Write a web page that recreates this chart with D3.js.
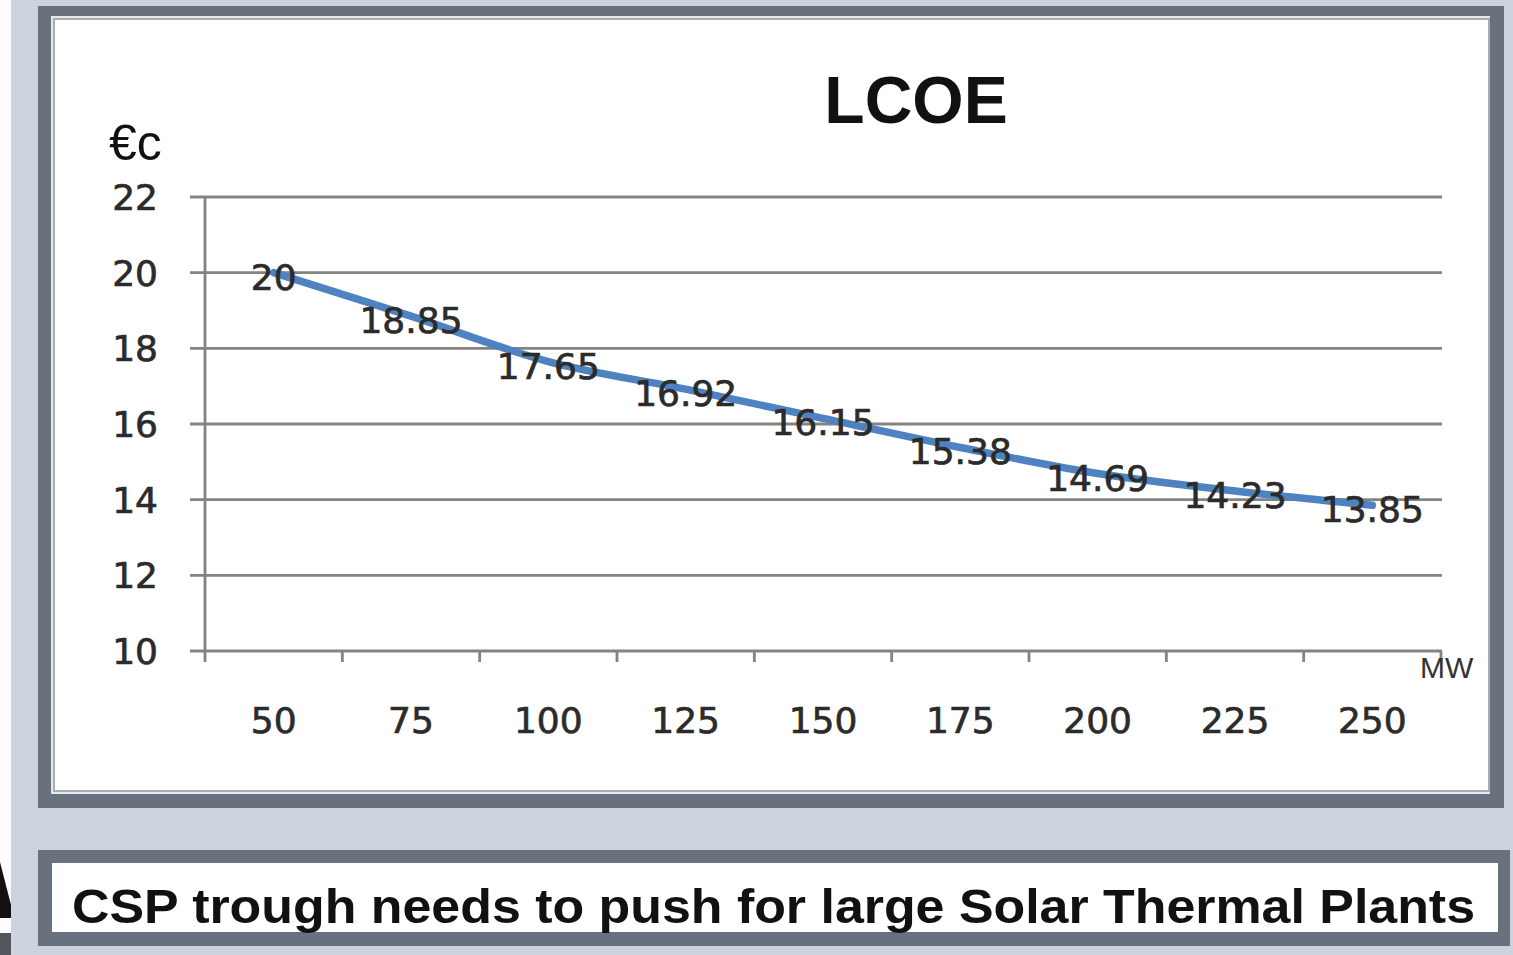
<!DOCTYPE html>
<html>
<head>
<meta charset="utf-8">
<script src="https://cdn.jsdelivr.net/npm/d3@7"></script>
<style>
  body { margin: 0; background: #cdd3dc; overflow: hidden; }
  svg { display: block; }
</style>
</head>
<body>
<svg id="chart" width="1513" height="955"></svg>
<script>
// LCOE by plant size
const sizes = ['50', '75', '100', '125', '150', '175', '200', '225', '250'];
const lcoe = [20, 18.85, 17.65, 16.92, 16.15, 15.38, 14.69, 14.23, 13.85];
const labels = ['20', '18.85', '17.65', '16.92', '16.15', '15.38', '14.69', '14.23', '13.85'];
const yTicks = [10, 12, 14, 16, 18, 20, 22];

const svg = d3.select('#chart');

// page background, white strip at the far left and the logo fragment
svg.append('rect').attr('width', 1513).attr('height', 955).attr('fill', '#cdd3dc');
svg.append('rect').attr('x', 0).attr('y', 0).attr('width', 11).attr('height', 955).attr('fill', '#fdfdfd');
svg.append('path').attr('d', 'M0,862 L11,905 L11,918 L0,918 Z').attr('fill', '#111');
svg.append('rect').attr('x', 0).attr('y', 933).attr('width', 11).attr('height', 22).attr('fill', '#50565c');

// chart frame
svg.append('rect').attr('x', 38).attr('y', 6).attr('width', 1466).attr('height', 802).attr('fill', '#67727e');
svg.append('rect').attr('x', 51).attr('y', 16).attr('width', 1439).attr('height', 778).attr('fill', '#e6e9ec');
svg.append('rect').attr('x', 54).attr('y', 19).attr('width', 1435).attr('height', 772)
    .attr('fill', '#fff').attr('stroke', '#a9adb2').attr('stroke-width', 2);

// bottom box
svg.append('rect').attr('x', 38).attr('y', 850).attr('width', 1472).attr('height', 96).attr('fill', '#67727e');
svg.append('rect').attr('x', 52).attr('y', 863).attr('width', 1446).attr('height', 69).attr('fill', '#fff');
svg.append('text')
    .attr('x', 72).attr('y', 923)
    .attr('textLength', 1403).attr('lengthAdjust', 'spacingAndGlyphs')
    .style('font-family', '"Liberation Sans", Arial, sans-serif')
    .style('font-weight', 'bold').style('font-size', '48px').attr('fill', '#111')
    .text('CSP trough needs to push for large Solar Thermal Plants');

const x = d3.scaleBand().domain(sizes).range([205, 1441]);
const y = d3.scaleLinear().domain([10, 22]).range([651, 197]);

const digitFont = '"DejaVu Sans", Verdana, sans-serif';
const digitStyle = sel => sel
    .style('font-family', digitFont).style('font-size', '36px')
    .attr('fill', '#2b2b2b').attr('stroke', '#2b2b2b').attr('stroke-width', 0.7);

// gridlines
svg.append('g').selectAll('line')
    .data(yTicks).enter().append('line')
    .attr('x1', 190).attr('x2', 1442)
    .attr('y1', d => y(d)).attr('y2', d => y(d))
    .attr('stroke', '#838383').attr('stroke-width', 2.8);

// y axis line
svg.append('line')
    .attr('x1', 205).attr('x2', 205).attr('y1', 197).attr('y2', 662)
    .attr('stroke', '#838383').attr('stroke-width', 2.8);

// x ticks at band edges
const edges = sizes.map(d => x(d)).concat([x.range()[1]]);
svg.append('g').selectAll('line')
    .data(edges.slice(1)).enter().append('line')
    .attr('x1', d => d).attr('x2', d => d).attr('y1', 651).attr('y2', 662)
    .attr('stroke', '#838383').attr('stroke-width', 2.8);

// y tick labels
svg.append('g').selectAll('text')
    .data(yTicks).enter().append('text')
    .attr('x', 158).attr('y', d => y(d) + 13)
    .attr('text-anchor', 'end')
    .call(digitStyle)
    .text(d => d);

// x tick labels
svg.append('g').selectAll('text')
    .data(sizes).enter().append('text')
    .attr('x', d => x(d) + x.bandwidth() / 2).attr('y', 733)
    .attr('text-anchor', 'middle')
    .call(digitStyle)
    .text(d => d);

// line
const pts = sizes.map((s, i) => [x(s) + x.bandwidth() / 2, y(lcoe[i])]);
svg.append('path')
    .attr('d', d3.line().curve(d3.curveCatmullRom.alpha(0.5))(pts))
    .attr('fill', 'none').attr('stroke', '#4f82c0').attr('stroke-width', 7.5)
    .attr('stroke-linecap', 'round');

// data labels
svg.append('g').selectAll('text')
    .data(pts).enter().append('text')
    .attr('x', d => d[0]).attr('y', d => d[1] + 17)
    .attr('text-anchor', 'middle')
    .call(digitStyle)
    .text((d, i) => labels[i]);

// title and unit labels
svg.append('text')
    .attr('x', 916).attr('y', 123).attr('text-anchor', 'middle')
    .style('font-family', '"Liberation Sans", Arial, sans-serif')
    .style('font-weight', 'bold').style('font-size', '66px').attr('fill', '#111')
    .text('LCOE');

svg.append('text')
    .attr('x', 109).attr('y', 160)
    .style('font-family', '"Liberation Sans", Arial, sans-serif')
    .style('font-size', '50px').attr('fill', '#111')
    .text('€c');

svg.append('text')
    .attr('x', 1420).attr('y', 678)
    .style('font-family', '"Liberation Sans", Arial, sans-serif')
    .style('font-size', '30px').attr('fill', '#333')
    .text('MW');
</script>
</body>
</html>
